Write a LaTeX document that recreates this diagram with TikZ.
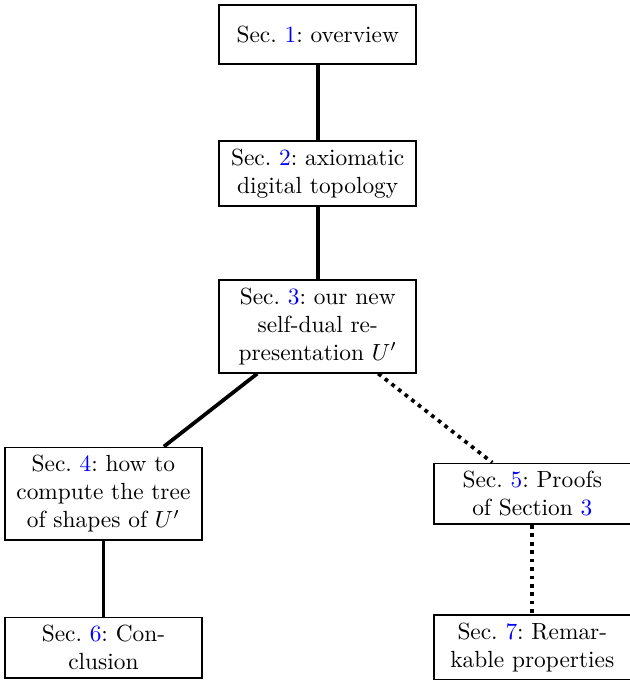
\documentclass[tikz,border=0pt]{standalone}
\usepackage{amsmath,amssymb}
\usepackage{xcolor}
\usepackage{tikz}
\tikzset{>=latex}
\newcommand{\secref}[1]{\textcolor{blue}{#1}}

\begin{document}
\frenchspacing
\begin{tikzpicture}[
	secbox/.style={draw, thick,
		minimum width=2.96cm,
		minimum height=0.887cm,
		align=center,
		text width=2.7cm},
	link/.style={ultra thick}]
\useasboundingbox (0,0) rectangle (9.47,-10.23);
% section boxes
	\node[secbox] (s1) at (4.78,-0.519) {Sec. \secref{1}: overview};
	\node[secbox] (s2) at (4.78,-2.609) {Sec. \secref{2}: axiomatic digital topology};
	\node[secbox] (s3) at (4.78,-4.91) {Sec. \secref{3}: our new\\ self-dual re-\\presentation $U'$};
	\node[secbox] (s4) at (1.556,-7.429) {Sec. \secref{4}: how to compute the tree of shapes of $U'$};
	\node[secbox] (s5) at (8.008,-7.429) {Sec. \secref{5}: Proofs of Section \secref{3}};
	\node[secbox] (s6) at (1.556,-9.744) {Sec. \secref{6}: Con\-clusion};
	\node[secbox] (s7) at (8.008,-9.744) {Sec. \secref{7}: Remar\-kable properties};

% connectors
	\draw[link] (s1) -- (s2);
	\draw[link] (s2) -- (s3);
	\draw[link] (s3) -- (s4);
	\draw[link] (s4) -- (s6);
	\draw[link, dotted] (s3) -- (s5);
	\draw[link, dotted] (s5) -- (s7);
\end{tikzpicture}
\end{document}
